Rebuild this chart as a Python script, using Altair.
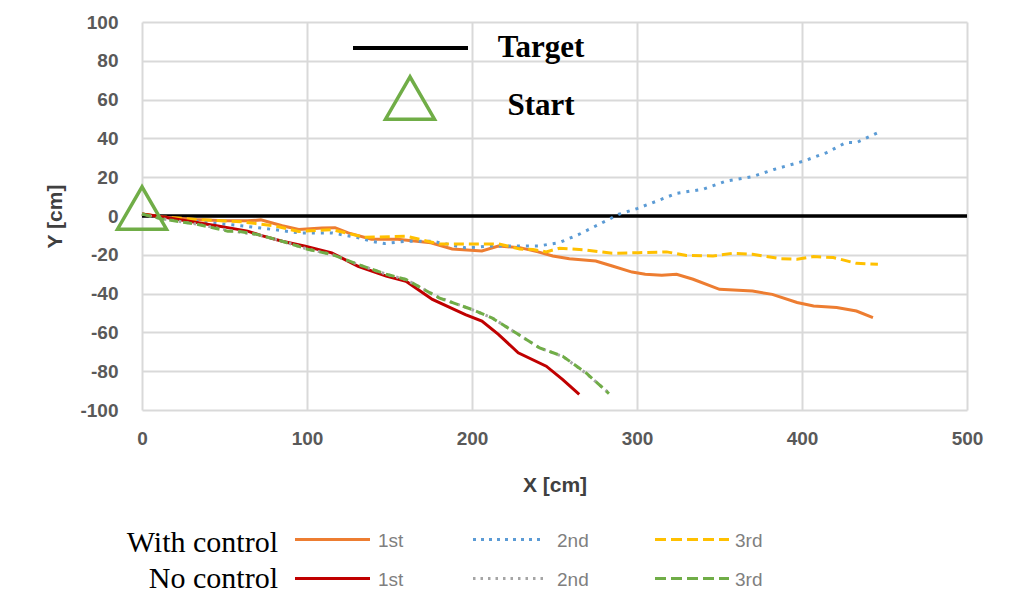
import altair as alt
import pandas as pd

# ---- data ----
wc1_x = [0, 12, 32, 50, 64, 72, 85, 95, 109, 117, 125, 139, 155, 175, 188, 206, 216, 229, 240, 249, 259, 275, 285, 297, 305, 315, 324, 334, 350, 370, 382, 397, 407, 421, 433, 443]
wc1_y = [1, -0.5, -1.8, -2.5, -2.5, -2, -5, -7, -6.2, -6, -8.7, -12, -12, -13.8, -17, -18, -15.5, -16.3, -18.5, -20.6, -22, -23.2, -25.8, -28.9, -30, -30.5, -30, -32.6, -37.8, -38.7, -40.4, -44.6, -46.4, -47.2, -49, -52.4]

wc2_x = [0, 12, 34, 60, 80, 95, 115, 130, 139, 147, 160, 176, 196, 212, 229, 240, 253, 265, 277, 289, 300, 312, 324, 340, 354, 370, 383, 401, 415, 427, 433, 446]
wc2_y = [1, -0.5, -3, -5, -7, -8.7, -8.7, -11, -13, -14.2, -13, -13, -16.4, -15.5, -15.5, -15.5, -13.7, -9.4, -4.3, 0.9, 3.8, 7.7, 11.7, 13.8, 18, 20.3, 24, 28.3, 32.7, 38, 37.8, 43]

wc3_x = [0, 12, 34, 60, 80, 95, 115, 135, 160, 180, 196, 216, 229, 237, 245, 253, 269, 285, 301, 318, 330, 346, 358, 370, 387, 397, 407, 419, 433, 446]
wc3_y = [1, -0.5, -1.8, -3, -5, -8, -7, -11, -10.4, -14.4, -14.4, -14.4, -17, -17.3, -18.5, -16.6, -17.5, -19.2, -18.9, -18.5, -20.3, -20.6, -19.2, -19.7, -22, -22.3, -20.9, -21.4, -24.4, -24.9]

nc1_x = [0, 12, 34, 46, 52, 64, 72, 85, 99, 115, 131, 148, 160, 176, 196, 206, 216, 228, 245, 255, 265]
nc1_y = [1, -0.4, -3.5, -5.2, -6, -7.8, -10, -13, -15.6, -19, -25.9, -31, -33.6, -43, -50.8, -54.2, -61, -70.5, -77.4, -84.3, -92]

nc2_x = [0, 12, 34, 55, 70, 85, 101, 115, 131, 148, 160, 180, 200, 212, 228, 241, 255, 269, 284]
nc2_y = [1, -1.4, -4.3, -7.8, -9.6, -13, -17.2, -19.8, -25, -30, -32.8, -42, -48.3, -52.4, -61, -68, -72.4, -81, -92]

nc3_x = [0, 12, 34, 52, 58, 70, 85, 101, 115, 131, 148, 160, 180, 200, 212, 228, 241, 255, 269, 283]
nc3_y = [1, -1.5, -4.4, -7.8, -7.8, -9.5, -13, -17.3, -19.8, -25, -30, -32.7, -42.2, -48.2, -52.5, -61, -68, -72.3, -80.8, -91.5]

target_x = [0, 500]
target_y = [0, 0]
start_x = [0]
start_y = [0]

x_ticks = [0, 100, 200, 300, 400, 500]
y_ticks = [-100, -80, -60, -40, -20, 0, 20, 40, 60, 80, 100]

groups = ["With control", "No control"]
runs = ["1st", "2nd", "3rd"]

# ---- styles ----
COL = {"wc1": "#ED7D31", "wc2": "#5B9BD5", "wc3": "#FFC000",
       "nc1": "#C00000", "nc2": "#A5A5A5", "nc3": "#70AD47"}
DASH = {"wc1": None, "wc2": [3, 6], "wc3": [10, 5],
        "nc1": None, "nc2": [2.5, 5], "nc3": [9, 5]}
LEGDASH = {"wc1": None, "wc2": [3, 5], "wc3": [11, 5],
           "nc1": None, "nc2": [2.5, 5], "nc3": [11, 5]}

xscale = alt.Scale(domain=[0, 500], nice=False, zero=False)
yscale = alt.Scale(domain=[-100, 100], nice=False, zero=False)

common_axis = dict(grid=True, gridColor="#D9D9D9", gridWidth=2, domain=False, ticks=False,
                   labelFont="Liberation Sans", labelFontWeight="bold", labelFontSize=19,
                   labelColor="#595959", titleFont="Liberation Sans", titleFontSize=21,
                   titleFontWeight="bold", titleColor="#404040",
                   labelExpr="datum.value < 0 ? '-' + abs(datum.value) : '' + datum.value")
xaxis = alt.Axis(values=x_ticks, labelPadding=19, titlePadding=26, labelFlush=False,
                 title="X [cm]", **common_axis)
yaxis = alt.Axis(values=y_ticks, labelPadding=24, titlePadding=14, title="Y [cm]", **common_axis)

X = alt.X("x:Q", scale=xscale, axis=xaxis)
Y = alt.Y("y:Q", scale=yscale, axis=yaxis)

layers = []

tdf = pd.DataFrame({"x": target_x, "y": target_y})
layers.append(alt.Chart(tdf).mark_line(color="black", strokeWidth=3.5).encode(x=X, y=Y))

series = [("wc1", wc1_x, wc1_y), ("wc2", wc2_x, wc2_y), ("wc3", wc3_x, wc3_y),
          ("nc1", nc1_x, nc1_y), ("nc2", nc2_x, nc2_y), ("nc3", nc3_x, nc3_y)]
for key, xs, ys in series:
    df = pd.DataFrame({"x": xs, "y": ys, "i": list(range(len(xs)))})
    kw = dict(color=COL[key], strokeWidth=3)
    if DASH[key] is not None:
        kw["strokeDash"] = DASH[key]
    layers.append(alt.Chart(df).mark_line(**kw).encode(x=X, y=Y, order="i:Q"))

sdf = pd.DataFrame({"x": start_x, "y": start_y})
layers.append(alt.Chart(sdf).mark_point(shape="triangle-up", size=2400, filled=False,
                                        color="#70AD47", strokeWidth=3.5, opacity=1,
                                        yOffset=-8).encode(x=X, y=Y))

one = pd.DataFrame({"k": [0]})

# inner legend (Target / Start)
layers.append(alt.Chart(one).mark_rule(color="black", strokeWidth=4).encode(
    x=alt.value(211), x2=alt.value(326), y=alt.value(26)))
layers.append(alt.Chart(one).mark_point(shape="triangle-up", size=2400, filled=False,
                                        color="#70AD47", strokeWidth=3.5, opacity=1).encode(
    x=alt.value(268), y=alt.value(76)))
for txt, yy in [("Target", 35), ("Start", 93)]:
    layers.append(alt.Chart(pd.DataFrame({"t": [txt]})).mark_text(
        font="Liberation Serif", fontWeight="bold", fontSize=31, color="black",
        align="center", baseline="alphabetic").encode(
        x=alt.value(399), y=alt.value(yy), text="t:N"))

# bottom legend
row_y = [517.5, 556.5]
row_base = [530, 566]
seg = [(153, 228), (331, 403), (513, 587)]
lab_x = [236, 415, 593]
keys = [["wc1", "wc2", "wc3"], ["nc1", "nc2", "nc3"]]
for r, g in enumerate(groups):
    layers.append(alt.Chart(pd.DataFrame({"t": [g]})).mark_text(
        font="Liberation Serif", fontSize=30, color="black", align="right",
        baseline="alphabetic").encode(x=alt.value(136), y=alt.value(row_base[r]), text="t:N"))
    for c, run in enumerate(runs):
        k = keys[r][c]
        kw = dict(color=COL[k], strokeWidth=3)
        if LEGDASH[k] is not None:
            kw["strokeDash"] = LEGDASH[k]
        layers.append(alt.Chart(one).mark_rule(**kw).encode(
            x=alt.value(seg[c][0]), x2=alt.value(seg[c][1]), y=alt.value(row_y[r])))
        layers.append(alt.Chart(pd.DataFrame({"t": [run]})).mark_text(
            font="Liberation Sans", fontSize=19, color="#7F7F7F", align="left",
            baseline="middle").encode(x=alt.value(lab_x[c]), y=alt.value(row_y[r] + 1), text="t:N"))

chart = alt.layer(*layers).properties(
    width=825, height=388,
    autosize=alt.AutoSizeParams(type="none"),
    padding={"left": 134, "top": 14, "right": 30, "bottom": 186},
    background="white",
).configure_view(strokeWidth=0)

chart.save("out.html", embed_options={"renderer": "svg", "actions": False})
